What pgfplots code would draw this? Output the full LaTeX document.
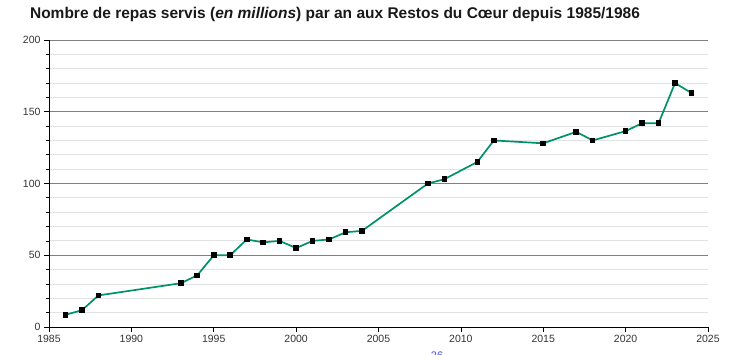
\documentclass[border=0pt]{standalone}
\usepackage{pgfplots}
\pgfplotsset{compat=1.18}
\usepackage{fontspec}
\setmainfont{Liberation Sans}
\definecolor{linegreen}{HTML}{00916B}
\definecolor{majgrid}{HTML}{808080}
\definecolor{mingrid}{HTML}{E2E2E2}
\definecolor{ticktext}{HTML}{333333}
\begin{document}
\begin{tikzpicture}
\useasboundingbox (0pt,0pt) rectangle (740pt,355pt);
\node[font=\fontsize{15.5}{17}\selectfont\bfseries, text=black!90] at (335pt,340pt) {Nombre de repas servis (\textit{en millions}) par an aux Restos du Cœur depuis 1985/1986};
\begin{axis}[
  at={(49pt,28pt)}, anchor=south west,
  scale only axis, width=659pt, height=287pt,
  xmin=1985, xmax=2025, ymin=0, ymax=200,
  axis x line*=bottom, axis y line*=left,
  axis line style={-, black, line width=0.8pt},
  xtick={1985,1990,...,2025},
  ytick={0,50,100,150,200},
  minor y tick num=4,
  ymajorgrids, yminorgrids,
  major grid style={majgrid, line width=0.8pt},
  minor grid style={mingrid, line width=0.8pt},
  tick align=outside,
  major tick length=5pt, minor tick length=3pt,
  tick style={black, line width=0.7pt},
  /pgf/number format/1000 sep={},
  /pgf/number format/assume math mode=true,
  tick label style={font=\fontsize{10.5}{12}\selectfont, text=ticktext},
  clip=false,
]
\addplot[linegreen, line width=1.7pt, mark=square*, mark size=2.3pt,
  mark options={black, fill=black, line width=0pt}] coordinates {
(1986,8.5) (1987,11.7) (1988,22) (1993,30.5) (1994,36) (1995,50) (1996,50)
(1997,61) (1998,59) (1999,60) (2000,55) (2001,60) (2002,61) (2003,66) (2004,67)
(2008,100) (2009,103) (2011,115) (2012,130) (2015,128) (2017,136) (2018,130)
(2020,136.5) (2021,142) (2022,142) (2023,170) (2024,163)
};
\end{axis}
\node[font=\fontsize{11}{12}\selectfont, text=blue!70] at (437pt,-1pt) {26};
\end{tikzpicture}
\end{document}
